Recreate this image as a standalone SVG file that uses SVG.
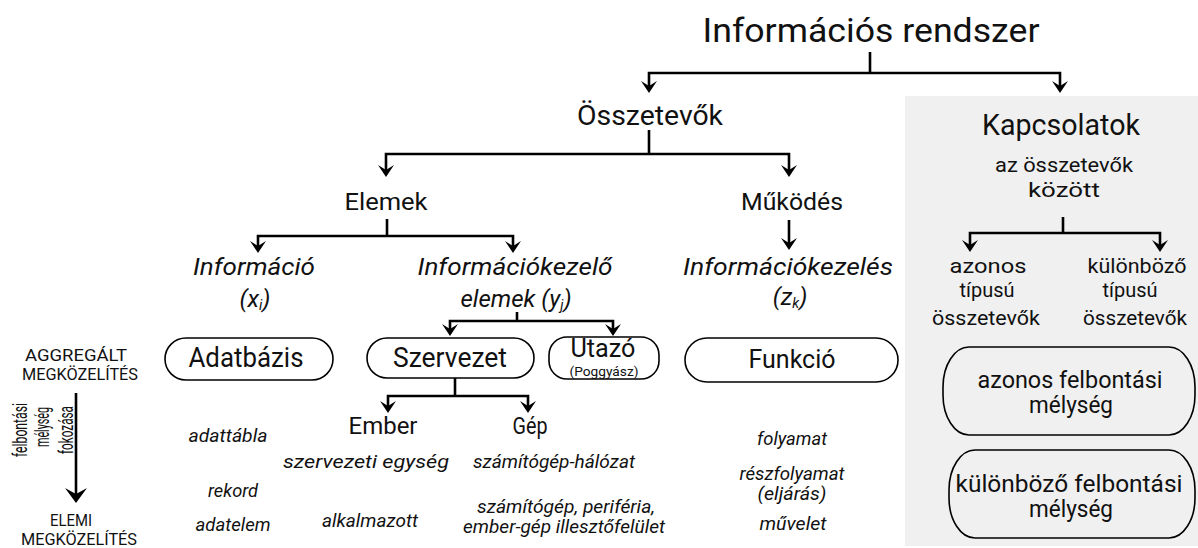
<svg xmlns="http://www.w3.org/2000/svg" width="1198" height="548" viewBox="0 0 1198 548">
  <style>
    text { font-family: Roboto, "Liberation Sans", sans-serif; fill: #111; text-anchor: middle; }
    .it { font-style: italic; }
    .conn { fill: none; stroke: #000; stroke-width: 2.6; }
    .pill { fill: #fff; stroke: #000; stroke-width: 1.6; }
    .pill2 { fill: #f0f0f0; stroke: #000; stroke-width: 1.6; }
  </style>
  <defs>
    <marker id="arr" markerUnits="userSpaceOnUse" orient="auto-start-reverse" refX="0" refY="0" markerWidth="20" markerHeight="20" overflow="visible">
      <path d="M5,0 L-7,-8 L-2,0 L-7,8 Z" fill="#000"/>
    </marker>
    <marker id="arrBig" markerUnits="userSpaceOnUse" orient="auto" refX="0" refY="0" markerWidth="24" markerHeight="24" overflow="visible">
      <path d="M5,0 L-10,-11 L-4,0 L-10,11 Z" fill="#000"/>
    </marker>
  </defs>

  <!-- right-hand panel for the relations -->
  <rect id="panel" x="905" y="96" width="293" height="450" fill="#f0f0f0"/>

  <g id="connectors">
    <path class="conn" d="M870,52 V73"/>
    <path class="conn" d="M649,88 V73 H1060 V88" marker-start="url(#arr)" marker-end="url(#arr)"/>
    <path class="conn" d="M649,130 V154"/>
    <path class="conn" d="M386,172 V154 H789 V172" marker-start="url(#arr)" marker-end="url(#arr)"/>
    <path class="conn" d="M387,219 V236"/>
    <path class="conn" d="M258,248 V236 H513 V248" marker-start="url(#arr)" marker-end="url(#arr)"/>
    <path class="conn" d="M789,220 V245" marker-end="url(#arr)"/>
    <path class="conn" d="M517,312 V321"/>
    <path class="conn" d="M450,331 V321 H613 V331" marker-start="url(#arr)" marker-end="url(#arr)"/>
    <path class="conn" d="M455,378 V396"/>
    <path class="conn" d="M388,408 V396 H528 V408" marker-start="url(#arr)" marker-end="url(#arr)"/>
    <path class="conn" d="M1063,217 V233"/>
    <path class="conn" d="M970,247 V233 H1160 V247" marker-start="url(#arr)" marker-end="url(#arr)"/>
    <path class="conn" d="M76,393 V498" stroke-width="3" marker-end="url(#arrBig)"/>
  </g>

  <g id="n-rendszer"><text x="871" y="42" font-size="34" textLength="337" lengthAdjust="spacingAndGlyphs">Információs rendszer</text></g>
  <g id="n-osszetevok"><text x="650" y="125" font-size="28" textLength="146" lengthAdjust="spacingAndGlyphs">Összetevők</text></g>
  <g id="n-kapcsolatok">
    <text x="1061" y="135" font-size="29" textLength="158" lengthAdjust="spacingAndGlyphs">Kapcsolatok</text>
    <text x="1064" y="172" font-size="20" textLength="138" lengthAdjust="spacingAndGlyphs">az összetevők</text>
    <text x="1064" y="197" font-size="20" textLength="72" lengthAdjust="spacingAndGlyphs">között</text>
  </g>
  <g id="n-elemek"><text x="386" y="210" font-size="24" textLength="83" lengthAdjust="spacingAndGlyphs">Elemek</text></g>
  <g id="n-mukodes"><text x="792" y="210" font-size="24" textLength="102" lengthAdjust="spacingAndGlyphs">Működés</text></g>

  <g id="n-informacio">
    <text class="it" x="254" y="275" font-size="24" textLength="122" lengthAdjust="spacingAndGlyphs">Információ</text>
    <text class="it" x="255" y="307" font-size="24">(x<tspan font-size="14" dy="3">i</tspan><tspan dy="-3">)</tspan></text>
  </g>
  <g id="n-infokezelo">
    <text class="it" x="515" y="275" font-size="24" textLength="195" lengthAdjust="spacingAndGlyphs">Információkezelő</text>
    <text class="it" x="516" y="307" font-size="24">elemek (y<tspan font-size="14" dy="3">j</tspan><tspan dy="-3">)</tspan></text>
  </g>
  <g id="n-infokezeles">
    <text class="it" x="788" y="275" font-size="24" textLength="210" lengthAdjust="spacingAndGlyphs">Információkezelés</text>
    <text class="it" x="790" y="305" font-size="24">(z<tspan font-size="14" dy="3">k</tspan><tspan dy="-3">)</tspan></text>
  </g>

  <g id="n-azonos-tipus">
    <text x="988" y="273" font-size="21" textLength="77" lengthAdjust="spacingAndGlyphs">azonos</text>
    <text x="987" y="297" font-size="21" textLength="55" lengthAdjust="spacingAndGlyphs">típusú</text>
    <text x="986" y="325" font-size="21" textLength="108" lengthAdjust="spacingAndGlyphs">összetevők</text>
  </g>
  <g id="n-kulonbozo-tipus">
    <text x="1137" y="273" font-size="21" textLength="99" lengthAdjust="spacingAndGlyphs">különböző</text>
    <text x="1130" y="297" font-size="21" textLength="55" lengthAdjust="spacingAndGlyphs">típusú</text>
    <text x="1135" y="325" font-size="21" textLength="104" lengthAdjust="spacingAndGlyphs">összetevők</text>
  </g>

  <g id="n-adatbazis">
    <rect class="pill" x="165" y="338" width="168" height="42" rx="21"/>
    <text x="246" y="367" font-size="27" textLength="115" lengthAdjust="spacingAndGlyphs">Adatbázis</text>
  </g>
  <g id="n-szervezet">
    <rect class="pill" x="367" y="338" width="167" height="40" rx="20"/>
    <text x="450" y="367" font-size="27" textLength="114" lengthAdjust="spacingAndGlyphs">Szervezet</text>
  </g>
  <g id="n-utazo">
    <rect class="pill" x="549" y="337" width="110" height="42" rx="18"/>
    <text x="603" y="357" font-size="25" textLength="65" lengthAdjust="spacingAndGlyphs">Utazó</text>
    <text x="604" y="376" font-size="13" textLength="69" lengthAdjust="spacingAndGlyphs">(Poggyász)</text>
  </g>
  <g id="n-funkcio">
    <rect class="pill" x="685" y="338" width="213" height="44" rx="22"/>
    <text x="792" y="368" font-size="26" textLength="87" lengthAdjust="spacingAndGlyphs">Funkció</text>
  </g>
  <g id="n-azonos-mely">
    <rect class="pill2" x="943" y="347" width="252" height="88" rx="26" ry="40"/>
    <text x="1070" y="388" font-size="23" textLength="185" lengthAdjust="spacingAndGlyphs">azonos felbontási</text>
    <text x="1071" y="413" font-size="23" textLength="84" lengthAdjust="spacingAndGlyphs">mélység</text>
  </g>
  <g id="n-kulonbozo-mely">
    <rect class="pill2" x="949" y="450" width="246" height="88" rx="26" ry="40"/>
    <text x="1069" y="492" font-size="23" textLength="227" lengthAdjust="spacingAndGlyphs">különböző felbontási</text>
    <text x="1071" y="517" font-size="23" textLength="84" lengthAdjust="spacingAndGlyphs">mélység</text>
  </g>

  <g id="n-ember"><text x="383" y="434" font-size="23" textLength="69" lengthAdjust="spacingAndGlyphs">Ember</text></g>
  <g id="n-gep"><text x="530" y="434" font-size="23" textLength="35" lengthAdjust="spacingAndGlyphs">Gép</text></g>

  <!-- decomposition scale on the left -->
  <g id="scale">
    <text x="76" y="361" font-size="16" textLength="102" lengthAdjust="spacingAndGlyphs">AGGREGÁLT</text>
    <text x="80" y="380" font-size="16" textLength="116" lengthAdjust="spacingAndGlyphs">MEGKÖZELÍTÉS</text>
    <text x="71" y="526" font-size="16" textLength="42" lengthAdjust="spacingAndGlyphs">ELEMI</text>
    <text x="79" y="545" font-size="16" textLength="116" lengthAdjust="spacingAndGlyphs">MEGKÖZELÍTÉS</text>
    <text transform="translate(27,430) rotate(-90)" font-size="20" textLength="54" lengthAdjust="spacingAndGlyphs">felbontási</text>
    <text transform="translate(49,427) rotate(-90)" font-size="20" textLength="40" lengthAdjust="spacingAndGlyphs">mélység</text>
    <text transform="translate(73,430) rotate(-90)" font-size="20" textLength="48" lengthAdjust="spacingAndGlyphs">fokozása</text>
  </g>

  <!-- detail levels under each element -->
  <g id="levels-info">
    <text class="it" x="228" y="442" font-size="18" textLength="79" lengthAdjust="spacingAndGlyphs">adattábla</text>
    <text class="it" x="233" y="497" font-size="18" textLength="50" lengthAdjust="spacingAndGlyphs">rekord</text>
    <text class="it" x="233" y="531" font-size="18" textLength="75" lengthAdjust="spacingAndGlyphs">adatelem</text>
  </g>
  <g id="levels-ember">
    <text class="it" x="366" y="468" font-size="18" textLength="166" lengthAdjust="spacingAndGlyphs">szervezeti egység</text>
    <text class="it" x="370" y="527" font-size="18" textLength="96" lengthAdjust="spacingAndGlyphs">alkalmazott</text>
  </g>
  <g id="levels-gep">
    <text class="it" x="554" y="468" font-size="18" textLength="162" lengthAdjust="spacingAndGlyphs">számítógép-hálózat</text>
    <text class="it" x="566" y="513" font-size="18" textLength="178" lengthAdjust="spacingAndGlyphs">számítógép, periféria,</text>
    <text class="it" x="564" y="533" font-size="18" textLength="202" lengthAdjust="spacingAndGlyphs">ember-gép illesztőfelület</text>
  </g>
  <g id="levels-funkcio">
    <text class="it" x="792" y="445" font-size="18" textLength="70" lengthAdjust="spacingAndGlyphs">folyamat</text>
    <text class="it" x="792" y="480" font-size="18" textLength="105" lengthAdjust="spacingAndGlyphs">részfolyamat</text>
    <text class="it" x="792" y="500" font-size="18" textLength="69" lengthAdjust="spacingAndGlyphs">(eljárás)</text>
    <text class="it" x="793" y="530" font-size="18" textLength="67" lengthAdjust="spacingAndGlyphs">művelet</text>
  </g>
</svg>
